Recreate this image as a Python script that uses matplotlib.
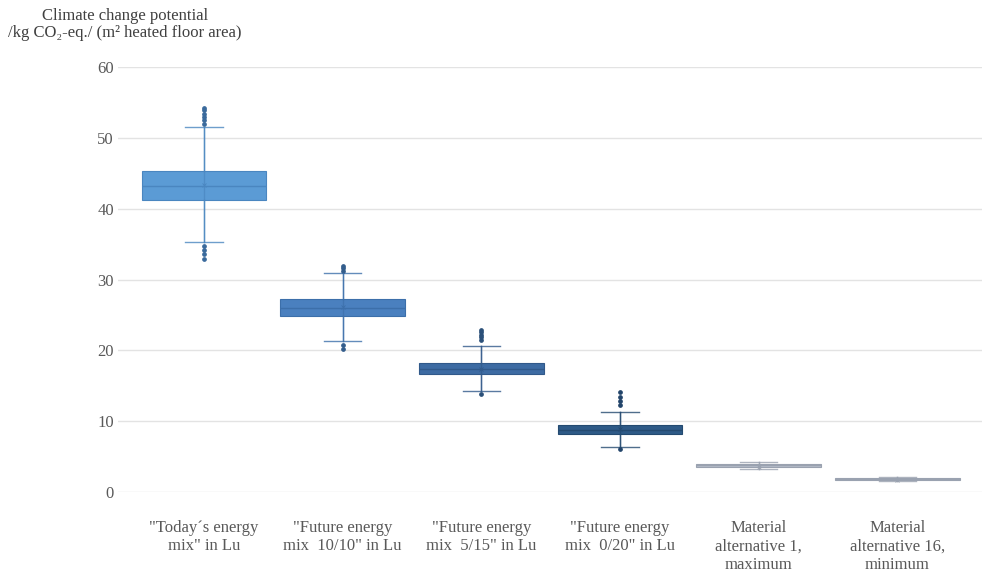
import matplotlib.pyplot as plt
import numpy as np

plt.rcParams['font.family'] = ['Liberation Serif', 'DejaVu Serif']

# scenarios on the x axis
labels = ['"Today´s energy\nmix" in Lu',
          '"Future energy\nmix  10/10" in Lu',
          '"Future energy\nmix  5/15" in Lu',
          '"Future energy\nmix  0/20" in Lu',
          'Material\nalternative 1,\nmaximum',
          'Material\nalternative 16,\nminimum']

# box statistics, kg CO2-eq per m2 heated floor area
q1 = [41.2, 24.9, 16.6, 8.2, 3.55, 1.7]
med = [43.2, 26.0, 17.4, 8.8, 3.75, 1.82]
q3 = [45.3, 27.2, 18.2, 9.5, 3.95, 1.95]
mean = [43.3, 26.1, 17.4, 8.9, 3.6, 1.75]
whislo = [35.3, 21.3, 14.3, 6.4, 3.2, 1.55]
whishi = [51.5, 30.9, 20.6, 11.3, 4.3, 2.1]
fliers = [[52.0, 52.5, 52.9, 53.4, 53.9, 54.2, 34.7, 34.2, 33.6, 32.9],
          [31.2, 31.6, 31.9, 20.75, 20.2],
          [21.5, 21.9, 22.2, 22.6, 22.9, 13.8],
          [12.3, 12.8, 13.4, 14.1, 6.1],
          [],
          []]

colors = ['#5b9bd5', '#4a80bf', '#3d6ba3', '#2e5a87', '#b8bfcc', '#b8bfcc']
edges = ['#4a86c0', '#3c6faa', '#31598a', '#244a70', '#9aa2b0', '#9aa2b0']
dots = ['#3a6a9c', '#335d8c', '#2b5079', '#22446a', '#8a92a0', '#8a92a0']

fig = plt.figure(figsize=(9.84, 5.76), dpi=100)
ax = fig.add_axes([0.12, 0.1458, 0.878, 0.7379])

gray = '#595959'
for i in range(len(labels)):
    st = dict(q1=q1[i], med=med[i], q3=q3[i], mean=mean[i],
              whislo=whislo[i], whishi=whishi[i], fliers=fliers[i])
    ax.bxp([st], positions=[i], widths=0.9, capwidths=0.27,
           showmeans=True, patch_artist=True, showfliers=True,
           boxprops=dict(facecolor=colors[i], edgecolor=edges[i], linewidth=0.8),
           medianprops=dict(color=edges[i], linewidth=1.0),
           whiskerprops=dict(color=edges[i], linewidth=1.0, alpha=0.8),
           capprops=dict(color=edges[i], linewidth=1.0, alpha=0.8),
           meanprops=dict(marker='x', markersize=3, markeredgecolor=edges[i],
                          markeredgewidth=0.6),
           flierprops=dict(marker='o', markersize=2.4, markerfacecolor=dots[i],
                           markeredgecolor=dots[i]))
    # whisker line continues through the box
    ax.plot([i, i], [whislo[i], whishi[i]], color=edges[i], lw=1.0, alpha=0.7,
            zorder=3)

ax.set_xlim(-0.62, 5.61)
ax.set_ylim(0, 60)
ax.set_yticks(np.arange(0, 61, 10))
ax.set_xticks(range(len(labels)))
ax.set_xticklabels(labels, fontsize=12, color=gray, linespacing=1.2)
ax.tick_params(axis='y', labelsize=12, colors=gray, length=0, pad=3)
ax.tick_params(axis='x', length=0, pad=20)
ax.grid(axis='y', color='#e3e3e3', linewidth=1.0)
ax.set_axisbelow(True)
for s in ax.spines.values():
    s.set_visible(False)

fig.text(0.127, 0.973, 'Climate change potential', ha='center', va='center',
         fontsize=12, color='#404040')
fig.text(0.127, 0.942, '/kg CO\u2082-eq./ (m\u00b2 heated floor area)', ha='center',
         va='center', fontsize=12, color='#404040')

fig.savefig('out.png', dpi=100)
